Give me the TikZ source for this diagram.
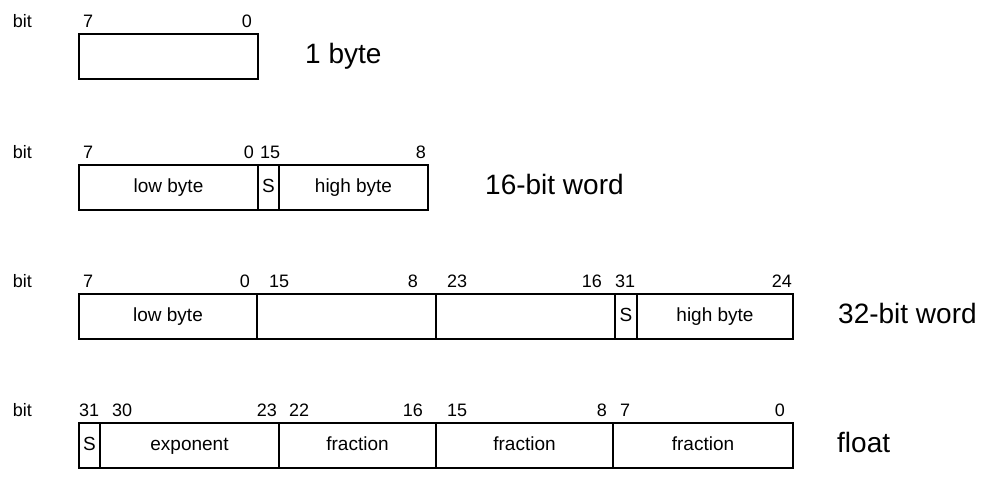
\documentclass[tikz,border=0pt]{standalone}
\usepackage{fontspec}
\setmainfont{Liberation Sans}
\usetikzlibrary{positioning}

\begin{document}
\begin{tikzpicture}[
  x=1pt,y=1pt,
  node distance=0pt,
  field/.style={draw,line width=1.3pt,outer sep=0pt,inner sep=0pt,
    minimum height=45pt,text height=13.5pt,text depth=4pt,
    font=\fontsize{19pt}{22pt}\selectfont},
  bitno/.style={inner sep=0pt,font=\fontsize{18pt}{20pt}\selectfont},
  title/.style={inner sep=0pt,text height=20pt,text depth=6pt,
    font=\fontsize{28pt}{32pt}\selectfont}
]
\useasboundingbox (0,0) rectangle (987,495);

% 1 byte
\node[field,minimum width=179pt,anchor=north west] (b8) at (79,461) {};
\node[bitno,above left=6pt and 47pt of b8.north west] (b8bit) {bit};
\node[bitno,above right=6pt and 4pt of b8.north west] {7};
\node[bitno,above left=6pt and 6pt of b8.north east] {0};
\node[title,right=47pt of b8] {1 byte};

% 16-bit word
\node[field,minimum width=179pt,anchor=north west] (w16lo) at (79,330) {low byte};
\node[field,minimum width=21pt,right=of w16lo] (w16s) {S};
\node[field,minimum width=149pt,right=of w16s] (w16hi) {high byte};
\node[bitno,above left=6pt and 47pt of w16lo.north west] (w16bit) {bit};
\node[bitno,above right=6pt and 4pt of w16lo.north west] {7};
\node[bitno,above left=6pt and 4pt of w16lo.north east] {0};
\node[bitno,above right=6pt and 2pt of w16s.north west] {15};
\node[bitno,above left=6pt and 2pt of w16hi.north east] {8};
\node[title,right=57pt of w16hi] {16-bit word};

% 32-bit word
\node[field,minimum width=178pt,anchor=north west] (w32lo) at (79,201) {low byte};
\node[field,minimum width=179pt,right=of w32lo] (w32b1) {};
\node[field,minimum width=179pt,right=of w32b1] (w32b2) {};
\node[field,minimum width=22pt,right=of w32b2] (w32s) {S};
\node[field,minimum width=156pt,right=of w32s] (w32hi) {high byte};
\node[bitno,above left=6pt and 47pt of w32lo.north west] (w32bit) {bit};
\node[bitno,above right=6pt and 4pt of w32lo.north west] {7};
\node[bitno,above left=6pt and 7pt of w32lo.north east] {0};
\node[bitno,above right=6pt and 12pt of w32b1.north west] {15};
\node[bitno,above left=6pt and 18pt of w32b1.north east] {8};
\node[bitno,above right=6pt and 11pt of w32b2.north west] {23};
\node[bitno,above left=6pt and 13pt of w32b2.north east] {16};
\node[bitno,above right=6pt and 0pt of w32s.north west] {31};
\node[bitno,above left=6pt and 1pt of w32hi.north east] {24};
\node[title,right=45pt of w32hi] {32-bit word};

% float
\node[field,minimum width=21pt,anchor=north west] (fs) at (79,72) {S};
\node[field,minimum width=179pt,right=of fs] (fexp) {exponent};
\node[field,minimum width=157pt,right=of fexp] (ffr1) {fraction};
\node[field,minimum width=177pt,right=of ffr1] (ffr2) {fraction};
\node[field,minimum width=180pt,right=of ffr2] (ffr3) {fraction};
\node[bitno,above left=6pt and 47pt of fs.north west] (fbit) {bit};
\node[bitno,above right=6pt and 0pt of fs.north west] {31};
\node[bitno,above right=6pt and 12pt of fexp.north west] {30};
\node[bitno,above left=6pt and 2pt of fexp.north east] {23};
\node[bitno,above right=6pt and 10pt of ffr1.north west] {22};
\node[bitno,above left=6pt and 13pt of ffr1.north east] {16};
\node[bitno,above right=6pt and 11pt of ffr2.north west] {15};
\node[bitno,above left=6pt and 6pt of ffr2.north east] {8};
\node[bitno,above right=6pt and 7pt of ffr3.north west] {7};
\node[bitno,above left=6pt and 8pt of ffr3.north east] {0};
\node[title,right=44pt of ffr3] {float};
\end{tikzpicture}
\end{document}
